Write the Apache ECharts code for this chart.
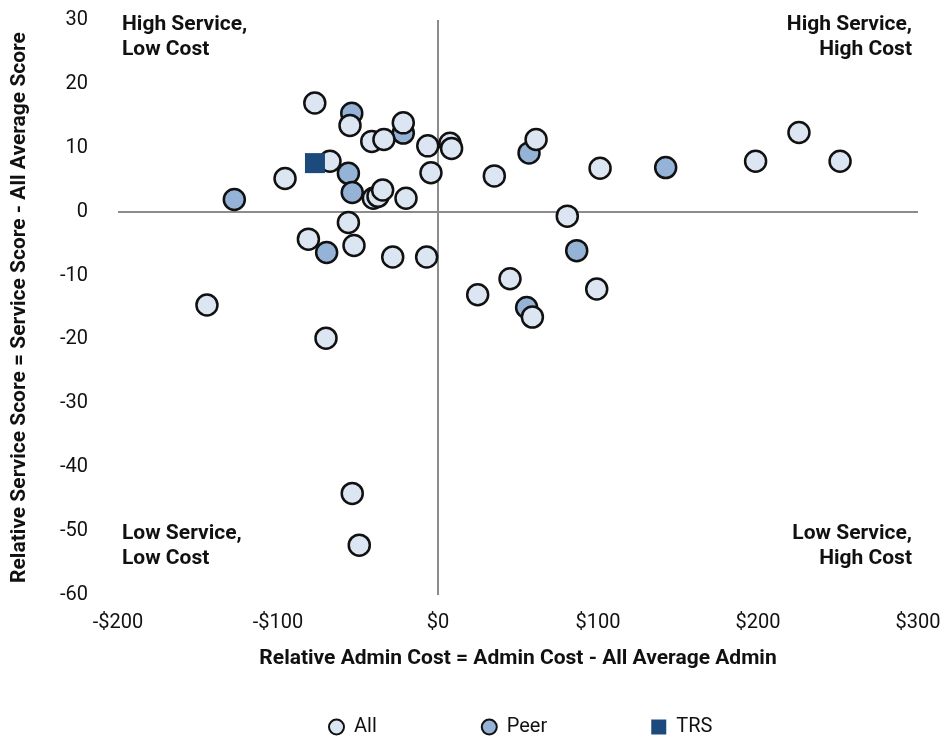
<!DOCTYPE html>
<html>
<head>
<meta charset="utf-8">
<script src="https://cdn.jsdelivr.net/npm/echarts@6/dist/echarts.min.js"></script>
<style>
  html, body { margin: 0; padding: 0; background: #fff; }
  #chart { width: 946px; height: 738px; }
</style>
</head>
<body>
<div id="chart"></div>
<script>
// relative admin cost ($), relative service score
var allPoints = [
    [-77, 17.0], [-55, 13.5], [-41.4, 11.0], [-33.8, 11.3], [-21.7, 13.9],
    [-6.4, 10.3], [7.5, 10.7], [8.5, 9.9], [-67.5, 7.9], [-95.6, 5.2],
    [-4.4, 6.1], [-40.4, 2.1], [-37.5, 2.4], [-34.6, 3.4], [-20, 2.1],
    [-56, -1.7], [-81, -4.3], [-52.5, -5.3], [-28.3, -7.1], [-7.1, -7.1],
    [61.3, 11.3], [35.2, 5.6], [101.3, 6.8], [198.5, 7.9], [225.6, 12.4],
    [251.3, 7.9], [80.8, -0.7], [99.2, -12.1], [45, -10.5], [24.8, -13.0],
    [59, -16.5], [-144.4, -14.6], [-70, -19.8], [-53.6, -44.1], [-49.2, -52.2]
];
var peerPoints = [
    [-53.9, 15.4], [-21.7, 12.3], [-56, 6.0], [-53.6, 3.0], [-127.3, 1.9],
    [-69.6, -6.4], [56.9, 9.2], [142.3, 6.9], [86.7, -6.1], [55.4, -15.0]
];
var trsPoints = [[-76.9, 7.6]];

var xTicks = ['-$200', '-$100', '$0', '$100', '$200', '$300'];
var quadrantLabels = [
    'High Service,\nLow Cost', 'High Service,\nHigh Cost',
    'Low Service,\nLow Cost', 'Low Service,\nHigh Cost'
];

var tickFont = "'Roboto', sans-serif";
var boldFont = "'Roboto', 'Liberation Sans', sans-serif";

function quadText(txt, pos, align) {
    var el = {
        type: 'text',
        style: {
            text: txt, fill: '#111', font: 'bold 21px ' + boldFont,
            textAlign: align, lineHeight: 25
        }
    };
    for (var k in pos) el[k] = pos[k];
    return el;
}

var option = {
    backgroundColor: '#fff',
    animation: false,
    grid: { left: 118, right: 28, top: 20, bottom: 143 },
    legend: {
        data: ['All', 'Peer', 'TRS'],
        left: 323,
        top: 712,
        itemGap: 104,
        itemWidth: 15,
        itemHeight: 15,
        textStyle: { fontSize: 20, color: '#111', fontFamily: 'Roboto', padding: [0, 0, 0, 5] }
    },
    xAxis: {
        type: 'value',
        min: -200, max: 300, interval: 100,
        splitLine: { show: false },
        axisLine: { show: false },
        axisTick: { show: false },
        axisLabel: {
            fontSize: 20, color: '#111', fontFamily: tickFont, margin: 18,
            formatter: function (v) { return xTicks[(v + 200) / 100]; }
        },
        name: 'Relative Admin Cost = Admin Cost - All Average Admin',
        nameLocation: 'middle',
        nameGap: 53,
        nameTextStyle: { fontSize: 21, fontWeight: 'bold', color: '#111', fontFamily: boldFont }
    },
    yAxis: {
        type: 'value',
        min: -60, max: 30, interval: 10,
        splitLine: { show: false },
        axisLine: { show: false },
        axisTick: { show: false },
        axisLabel: { fontSize: 20, color: '#111', fontFamily: tickFont, margin: 30 },
        name: 'Relative Service Score = Service Score - All Average Score',
        nameLocation: 'middle',
        nameRotate: 90,
        nameGap: 88,
        nameTextStyle: { fontSize: 21, fontWeight: 'bold', color: '#111', fontFamily: boldFont }
    },
    graphic: [
        quadText(quadrantLabels[0], { left: 122, top: 12 }, 'left'),
        quadText(quadrantLabels[1], { right: 34, top: 12 }, 'right'),
        quadText(quadrantLabels[2], { left: 122, top: 521 }, 'left'),
        quadText(quadrantLabels[3], { right: 34, top: 521 }, 'right')
    ],
    series: [
        {
            name: 'Peer',
            type: 'scatter',
            data: peerPoints,
            symbol: 'circle',
            symbolSize: 21,
            z: 3,
            itemStyle: { color: '#95b3d7', borderColor: '#111', borderWidth: 2.5, opacity: 1 },
            markLine: {
                silent: true,
                symbol: 'none',
                label: { show: false },
                lineStyle: { color: '#8c8c8c', width: 2, type: 'solid' },
                data: [{ xAxis: 0 }, { yAxis: 0 }],
                z: 1
            }
        },
        {
            name: 'All',
            type: 'scatter',
            data: allPoints,
            symbol: 'circle',
            symbolSize: 21,
            z: 4,
            itemStyle: { color: '#dce6f2', borderColor: '#111', borderWidth: 2.5, opacity: 1 }
        },
        {
            name: 'TRS',
            type: 'scatter',
            data: trsPoints,
            symbol: 'rect',
            symbolSize: 20,
            z: 5,
            itemStyle: { color: '#1c4a7c', opacity: 1 }
        }
    ]
};

var chart = echarts.init(document.getElementById('chart'));
chart.setOption(option);
</script>
</body>
</html>
